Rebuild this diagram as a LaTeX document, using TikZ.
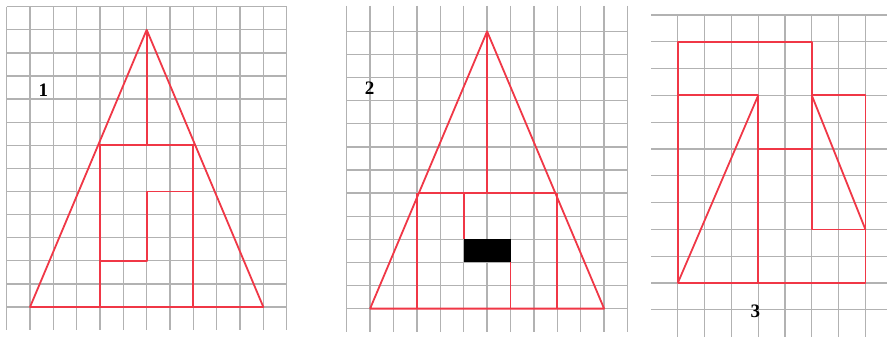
\documentclass[tikz,border=0pt]{standalone}
\usepackage{fontspec}
\setmainfont{Liberation Serif}
\begin{document}
\begin{tikzpicture}[x=1pt,y=-1pt,
  gridline/.style={draw=black!30,line width=1.3pt},
  redline/.style={draw={rgb,255:red,240;green,55;blue,70},line width=1.8pt,line join=round},
  lbl/.style={font=\fontsize{19}{19}\selectfont\bfseries,inner sep=0pt}]
\fill[white] (0,0) rectangle (887,337);
\useasboundingbox (0,0) rectangle (887,337);
% ---------- panel 1 ----------
\begin{scope}[shift={(6.7,6.7)},x=23.33pt,y=-23.1pt]
  \foreach \i in {0,...,12} \draw[gridline] (\i,0) -- (\i,14);
  \foreach \j in {0,...,13} \draw[gridline] (0,\j) -- (12,\j);
  \draw[redline] (1,13) -- (6,1) -- (11,13) -- cycle;
  \draw[redline] (6,1) -- (6,6);
  \draw[redline] (3.92,6) -- (8.08,6);
  \draw[redline] (4,6) -- (4,13);
  \draw[redline] (8,6) -- (8,13);
  \draw[redline] (8,8) -- (6,8) -- (6,11) -- (4,11);
  \node[lbl] (l1) at (1.57,3.6) {1};
\end{scope}
% ---------- panel 2 ----------
\begin{scope}[shift={(346.7,8.3)},x=23.4pt,y=-23.1pt]
  \foreach \i in {0,...,12} \draw[gridline] (\i,-0.1) -- (\i,14);
  \foreach \j in {1,...,13} \draw[gridline] (0,\j) -- (12,\j);
  \draw[redline] (1,13) -- (6,1) -- (11,13) -- cycle;
  \draw[redline] (6,1) -- (6,8);
  \draw[redline] (3.08,8) -- (8.92,8);
  \draw[redline] (3,8) -- (3,13);
  \draw[redline] (9,8) -- (9,13);
  \draw[redline] (5,8) -- (5,10);
  \draw[redline] (7,11) -- (7,13);
  \fill[black] (5,10) rectangle (7,11);
  \node[lbl] (l2) at (0.98,3.47) {2};
\end{scope}
% ---------- panel 3 ----------
\begin{scope}[shift={(651,15)},x=26.8pt,y=-26.8pt]
  \foreach \i in {1,...,8} \draw[gridline] (\i,0) -- (\i,12);
  \foreach \j in {0,...,11} \draw[gridline] (0,\j) -- (8.9,\j);
  \draw[redline] (6,3) -- (6,1) -- (1,1) -- (1,10) -- (8,10) -- (8,3) -- (6,3) -- (6,8) -- (8,8);
  \draw[redline] (1,3) -- (4,3) -- (4,10);
  \draw[redline] (1,10) -- (4,3);
  \draw[redline] (4,5) -- (6,5);
  \draw[redline] (6,3) -- (8,8);
  \node[lbl] (l3) at (3.89,11.06) {3};
\end{scope}
\end{tikzpicture}
\end{document}
